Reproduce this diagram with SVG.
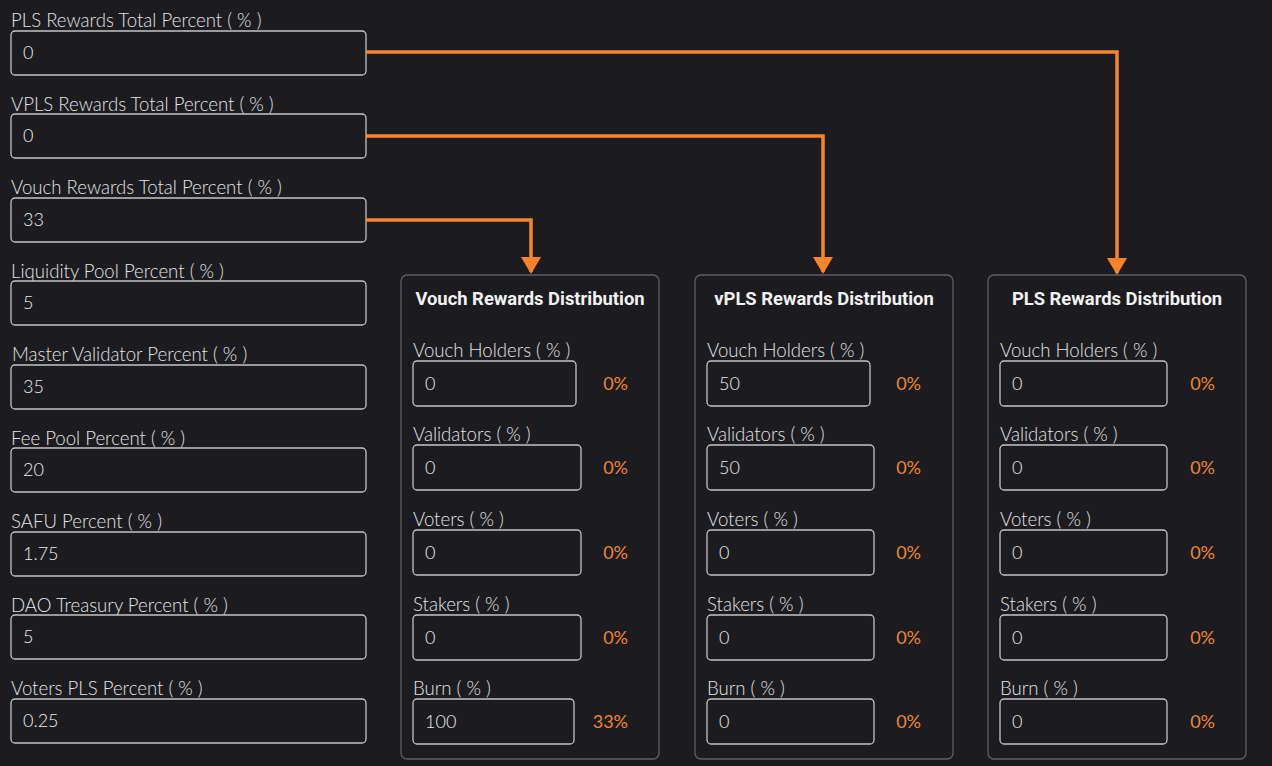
<svg xmlns="http://www.w3.org/2000/svg" width="1272" height="766" viewBox="0 0 1272 766">
<defs>
<style>
.bg{fill:#1c1c20}
.lbl{font-family:Lato,"Liberation Sans",sans-serif;font-size:18.6px;fill:#e4e4e6;font-weight:300}
.val{font-family:Lato,"Liberation Sans",sans-serif;font-size:18px;fill:#ececee;font-weight:300}
.inp{fill:#1c1c20;stroke:#c4c4c6;stroke-width:1.3}
.panel{fill:#1c1c20;stroke:#5e5e64;stroke-width:1.3}
.ttl{font-family:Roboto,"Liberation Sans",sans-serif;font-size:18.4px;font-weight:bold;fill:#f2f2f2;text-anchor:middle}
.pct{font-family:Lato,"Liberation Sans",sans-serif;font-size:18px;fill:#f0852f;text-anchor:end}
.conn{fill:none;stroke:#f7832a;stroke-width:3.5}
</style>
<marker id="ah" viewBox="0 0 17 20" refX="15" refY="10" markerWidth="17" markerHeight="20" markerUnits="userSpaceOnUse" orient="auto">
<path d="M0,0 L17,10 L0,20 Z" fill="#f7832a"/>
</marker>
</defs>
<rect class="bg" x="0" y="0" width="1272" height="766"/>

<g id="field-pls"><text class="lbl" x="11" y="27">PLS Rewards Total Percent ( % )</text><rect class="inp" x="11" y="31" width="355" height="44" rx="4"/><text class="val" x="23" y="59">0</text></g>
<g id="field-vpls"><text class="lbl" x="11" y="111">VPLS Rewards Total Percent ( % )</text><rect class="inp" x="11" y="114" width="355" height="44" rx="4"/><text class="val" x="23" y="142">0</text></g>
<g id="field-vouch"><text class="lbl" x="11" y="194">Vouch Rewards Total Percent ( % )</text><rect class="inp" x="11" y="198" width="355" height="44" rx="4"/><text class="val" x="23" y="226">33</text></g>
<g id="field-liquidity"><text class="lbl" x="11" y="278">Liquidity Pool Percent ( % )</text><rect class="inp" x="11" y="281" width="355" height="44" rx="4"/><text class="val" x="23" y="309">5</text></g>
<g id="field-master"><text class="lbl" x="12" y="361">Master Validator Percent ( % )</text><rect class="inp" x="11" y="365" width="355" height="44" rx="4"/><text class="val" x="23" y="393">35</text></g>
<g id="field-fee"><text class="lbl" x="11" y="445">Fee Pool Percent ( % )</text><rect class="inp" x="11" y="448" width="355" height="44" rx="4"/><text class="val" x="23" y="476">20</text></g>
<g id="field-safu"><text class="lbl" x="11" y="528">SAFU Percent ( % )</text><rect class="inp" x="11" y="532" width="355" height="44" rx="4"/><text class="val" x="23" y="560">1.75</text></g>
<g id="field-dao"><text class="lbl" x="11" y="612">DAO Treasury Percent ( % )</text><rect class="inp" x="11" y="615" width="355" height="44" rx="4"/><text class="val" x="23" y="643">5</text></g>
<g id="field-voters"><text class="lbl" x="11" y="695">Voters PLS Percent ( % )</text><rect class="inp" x="11" y="699" width="355" height="44" rx="4"/><text class="val" x="23" y="727">0.25</text></g>

<g id="panel-vouch">
<rect class="panel" x="401" y="275" width="258" height="484" rx="6"/>
<text class="ttl" x="530" y="305">Vouch Rewards Distribution</text>
<text class="lbl" x="413" y="357">Vouch Holders ( % )</text><rect class="inp" x="413" y="361" width="163" height="45" rx="4"/><text class="val" x="425" y="390">0</text><text class="pct" x="628" y="390">0%</text>
<text class="lbl" x="413" y="441">Validators ( % )</text><rect class="inp" x="413" y="445" width="168" height="45" rx="4"/><text class="val" x="425" y="474">0</text><text class="pct" x="628" y="474">0%</text>
<text class="lbl" x="413" y="526">Voters ( % )</text><rect class="inp" x="413" y="530" width="168" height="45" rx="4"/><text class="val" x="425" y="559">0</text><text class="pct" x="628" y="559">0%</text>
<text class="lbl" x="413" y="611">Stakers ( % )</text><rect class="inp" x="413" y="615" width="168" height="45" rx="4"/><text class="val" x="425" y="644">0</text><text class="pct" x="628" y="644">0%</text>
<text class="lbl" x="413" y="695">Burn ( % )</text><rect class="inp" x="413" y="699" width="161" height="45" rx="4"/><text class="val" x="425" y="728">100</text><text class="pct" x="628" y="728">33%</text>
</g>

<g id="panel-vpls">
<rect class="panel" x="695" y="275" width="258" height="484" rx="6"/>
<text class="ttl" x="824" y="305">vPLS Rewards Distribution</text>
<text class="lbl" x="707" y="357">Vouch Holders ( % )</text><rect class="inp" x="707" y="361" width="163" height="45" rx="4"/><text class="val" x="719" y="390">50</text><text class="pct" x="921" y="390">0%</text>
<text class="lbl" x="707" y="441">Validators ( % )</text><rect class="inp" x="707" y="445" width="167" height="45" rx="4"/><text class="val" x="719" y="474">50</text><text class="pct" x="921" y="474">0%</text>
<text class="lbl" x="707" y="526">Voters ( % )</text><rect class="inp" x="707" y="530" width="167" height="45" rx="4"/><text class="val" x="719" y="559">0</text><text class="pct" x="921" y="559">0%</text>
<text class="lbl" x="707" y="611">Stakers ( % )</text><rect class="inp" x="707" y="615" width="167" height="45" rx="4"/><text class="val" x="719" y="644">0</text><text class="pct" x="921" y="644">0%</text>
<text class="lbl" x="707" y="695">Burn ( % )</text><rect class="inp" x="707" y="699" width="167" height="45" rx="4"/><text class="val" x="719" y="728">0</text><text class="pct" x="921" y="728">0%</text>
</g>

<g id="panel-pls">
<rect class="panel" x="988" y="275" width="258" height="484" rx="6"/>
<text class="ttl" x="1117" y="305">PLS Rewards Distribution</text>
<text class="lbl" x="1000" y="357">Vouch Holders ( % )</text><rect class="inp" x="1000" y="361" width="167" height="45" rx="4"/><text class="val" x="1012" y="390">0</text><text class="pct" x="1215" y="390">0%</text>
<text class="lbl" x="1000" y="441">Validators ( % )</text><rect class="inp" x="1000" y="445" width="167" height="45" rx="4"/><text class="val" x="1012" y="474">0</text><text class="pct" x="1215" y="474">0%</text>
<text class="lbl" x="1000" y="526">Voters ( % )</text><rect class="inp" x="1000" y="530" width="167" height="45" rx="4"/><text class="val" x="1012" y="559">0</text><text class="pct" x="1215" y="559">0%</text>
<text class="lbl" x="1000" y="611">Stakers ( % )</text><rect class="inp" x="1000" y="615" width="167" height="45" rx="4"/><text class="val" x="1012" y="644">0</text><text class="pct" x="1215" y="644">0%</text>
<text class="lbl" x="1000" y="695">Burn ( % )</text><rect class="inp" x="1000" y="699" width="167" height="45" rx="4"/><text class="val" x="1012" y="728">0</text><text class="pct" x="1215" y="728">0%</text>
</g>

<g id="connectors">
<path class="conn" d="M366,52 H1117 V273" marker-end="url(#ah)"/>
<path class="conn" d="M366,136 H823 V272" marker-end="url(#ah)"/>
<path class="conn" d="M366,220 H531 V272" marker-end="url(#ah)"/>
</g>
</svg>
